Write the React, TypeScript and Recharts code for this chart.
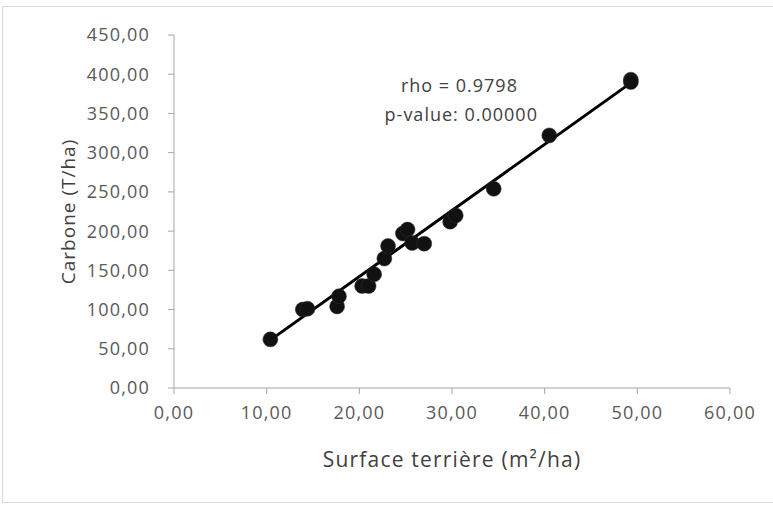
import React from "react";
import {
  ScatterChart,
  Scatter,
  XAxis,
  YAxis,
  ReferenceDot,
  Label
} from "recharts";

// Surface terrière (m²/ha) vs Carbone (T/ha)
const surface = [10.4, 13.9, 14.4, 17.6, 17.8, 20.3, 21.0, 21.6, 22.7, 23.1, 24.7, 25.2, 25.7, 27.0, 29.8, 30.4, 34.5, 40.5, 49.3, 49.3];
const carbone = [62, 100, 101, 104, 117, 130, 130, 145, 165, 181, 197, 202, 185, 184, 212, 220, 254, 322, 393, 390];

// regression line end points
const trendX = [10.5, 49.3];
const trendY = [62, 389];

const xTicks = [0, 10, 20, 30, 40, 50, 60];
const yTicks = [0, 50, 100, 150, 200, 250, 300, 350, 400, 450];

const annotation = ["rho = 0.9798", "p-value: 0.00000"];

const fmt = (v: number) => v.toFixed(2).replace(".", ",");

const points = surface.map((x, i) => ({ x, y: carbone[i] }));
const trend = trendX.map((x, i) => ({ x, y: trendY[i] }));

const tickStyle = {
  fontSize: 18,
  fill: "#595959",
  fontFamily: "Open Sans",
  letterSpacing: 1.2
};

export default function App() {
  return (
    <div
      style={{
        position: "absolute",
        left: 0,
        top: 0,
        width: 773,
        height: 505,
        background: "#fff",
        overflow: "hidden"
      }}
    >
      <div
        style={{
          position: "absolute",
          left: 2,
          top: 6,
          width: 800,
          height: 495,
          border: "1px solid #d9d9d9"
        }}
      />
      <div style={{ position: "absolute", left: 0, top: 0 }}>
        <ScatterChart
          width={773}
          height={505}
          margin={{ top: 35, right: 43, bottom: 30, left: 100 }}
        >
          <XAxis
            type="number"
            dataKey="x"
            domain={[0, 60]}
            ticks={xTicks}
            tickFormatter={fmt}
            height={87}
            tickSize={6}
            tickMargin={12}
            stroke="#a6a6a6"
            tick={tickStyle}
            allowDataOverflow
          >
            <Label
              value="Surface terrière (m²/ha)"
              position="insideBottom"
              offset={8}
              style={{
                fontSize: 21,
                fill: "#404040",
                fontFamily: "Open Sans",
                letterSpacing: 1.2
              }}
            />
          </XAxis>
          <YAxis
            type="number"
            dataKey="y"
            domain={[0, 450]}
            ticks={yTicks}
            tickFormatter={fmt}
            width={74}
            tickSize={6}
            tickMargin={18}
            stroke="#a6a6a6"
            tick={tickStyle}
            allowDataOverflow
          >
            <Label
              value="Carbone (T/ha)"
              angle={-90}
              position="center"
              dx={-69}
              style={{
                fontSize: 19,
                fill: "#404040",
                fontFamily: "Open Sans",
                letterSpacing: 1,
                textAnchor: "middle"
              }}
            />
          </YAxis>
          <Scatter
            data={trend}
            line={{ stroke: "#000", strokeWidth: 3 }}
            shape={() => <g />}
            isAnimationActive={false}
          />
          <Scatter
            data={points}
            fill="#111"
            shape={(p: any) => (
              <circle cx={p.cx} cy={p.cy} r={7.5} fill="#111" stroke="#333" strokeWidth={0.5} />
            )}
            isAnimationActive={false}
          />
          <ReferenceDot
            x={30.8}
            y={386}
            r={0}
            fill="none"
            stroke="none"
            ifOverflow="visible"
            label={{
              value: annotation[0],
              position: "center",
              style: { fontSize: 18, fill: "#404040", fontFamily: "Open Sans", letterSpacing: 1 }
            }}
          />
          <ReferenceDot
            x={31}
            y={348}
            r={0}
            fill="none"
            stroke="none"
            ifOverflow="visible"
            label={{
              value: annotation[1],
              position: "center",
              style: { fontSize: 18, fill: "#404040", fontFamily: "Open Sans", letterSpacing: 1 }
            }}
          />
        </ScatterChart>
      </div>
    </div>
  );
}
